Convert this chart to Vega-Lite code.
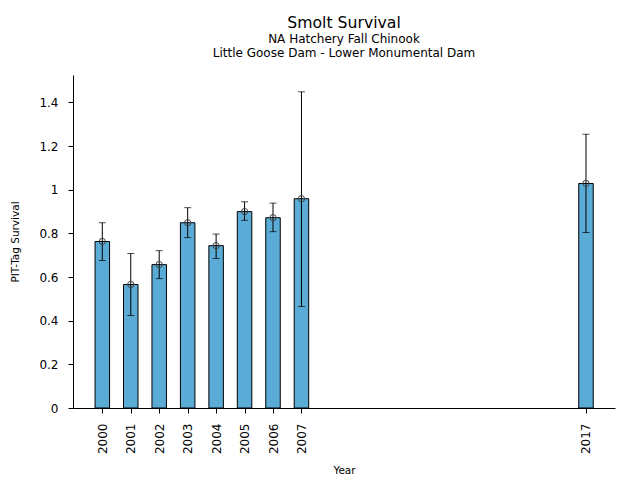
{
  "$schema": "https://vega.github.io/schema/vega-lite/v6.json",
  "width": 542,
  "height": 333,
  "autosize": {"type": "none"},
  "padding": {"left": 73, "top": 75, "right": 25, "bottom": 72},
  "background": "white",
  "title": {
    "text": "Smolt Survival",
    "subtitle": ["NA Hatchery Fall Chinook", "Little Goose Dam - Lower Monumental Dam"],
    "anchor": "middle",
    "font": "DejaVu Sans",
    "fontSize": 15.7,
    "fontWeight": "normal",
    "subtitleFont": "DejaVu Sans",
    "subtitleFontSize": 12,
    "subtitleColor": "black",
    "subtitlePadding": 2,
    "subtitleLineHeight": 14,
    "offset": 15
  },
  "data": {
    "values": [
      {"year": 2000, "survival": 0.763, "lo": 0.676, "hi": 0.849},
      {"year": 2001, "survival": 0.566, "lo": 0.424, "hi": 0.708},
      {"year": 2002, "survival": 0.657, "lo": 0.593, "hi": 0.721},
      {"year": 2003, "survival": 0.849, "lo": 0.781, "hi": 0.918},
      {"year": 2004, "survival": 0.744, "lo": 0.685, "hi": 0.797},
      {"year": 2005, "survival": 0.900, "lo": 0.860, "hi": 0.945},
      {"year": 2006, "survival": 0.872, "lo": 0.808, "hi": 0.939},
      {"year": 2007, "survival": 0.959, "lo": 0.465, "hi": 1.449},
      {"year": 2017, "survival": 1.029, "lo": 0.804, "hi": 1.255}
    ]
  },
  "encoding": {
    "x": {
      "field": "year",
      "type": "quantitative",
      "title": "Year",
      "scale": {"domain": [1998.97, 2018.02], "nice": false, "zero": false, "padding": 0},
      "axis": {
        "values": [2000, 2001, 2002, 2003, 2004, 2005, 2006, 2007, 2017],
        "format": "d",
        "labelAngle": -90,
        "labelAlign": "right",
        "labelBaseline": "middle",
        "labelPadding": 10,
        "grid": false,
        "titlePadding": 12
      }
    }
  },
  "layer": [
    {
      "mark": {"type": "bar", "width": 14.5, "fill": "#5aabd6", "stroke": "black", "strokeWidth": 1},
      "encoding": {
        "y": {
          "field": "survival",
          "type": "quantitative",
          "title": "PIT-Tag Survival",
          "scale": {"domain": [0, 1.526], "nice": false},
          "axis": {
            "values": [0, 0.2, 0.4, 0.6, 0.8, 1, 1.2, 1.4],
            "format": "~g",
            "grid": false,
            "labelPadding": 10,
            "titlePadding": 18
          }
        }
      }
    },
    {
      "mark": {"type": "rule", "color": "black", "strokeWidth": 1},
      "encoding": {"y": {"field": "lo", "type": "quantitative"}, "y2": {"field": "hi"}}
    },
    {
      "mark": {"type": "tick", "orient": "horizontal", "color": "black", "size": 7, "thickness": 1},
      "encoding": {"y": {"field": "lo", "type": "quantitative"}}
    },
    {
      "mark": {"type": "tick", "orient": "horizontal", "color": "black", "size": 7, "thickness": 1},
      "encoding": {"y": {"field": "hi", "type": "quantitative"}}
    },
    {
      "mark": {"type": "point", "shape": "circle", "filled": false, "size": 40, "stroke": "#444444", "strokeWidth": 1, "opacity": 1},
      "encoding": {"y": {"field": "survival", "type": "quantitative"}}
    }
  ],
  "config": {
    "font": "DejaVu Sans",
    "view": {"stroke": null},
    "axis": {
      "domainColor": "black",
      "tickColor": "black",
      "labelColor": "black",
      "titleColor": "black",
      "labelFont": "DejaVu Sans",
      "titleFont": "DejaVu Sans",
      "labelFontSize": 12,
      "titleFontSize": 10.5,
      "titleFontWeight": "normal",
      "tickSize": 5
    }
  }
}
